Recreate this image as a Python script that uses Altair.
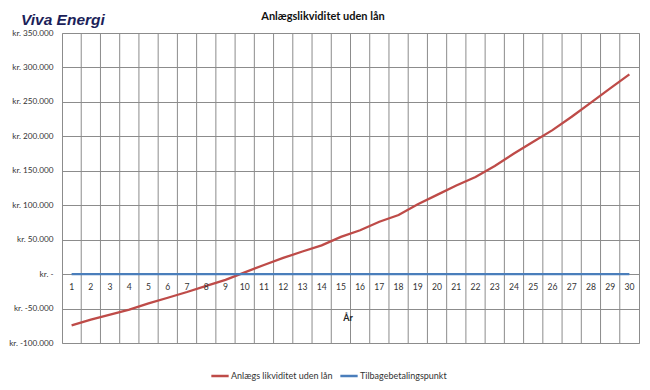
import altair as alt
import pandas as pd

# ---- data ----
years = list(range(1, 31))
likviditet = [-74500, -66000, -58800, -51500, -42600, -34300, -26000, -17000, -8300, 2500,
              13200, 23500, 32800, 41700, 54000, 63700, 76000, 85800, 101500, 115000,
              128700, 141000, 157000, 175000, 192000, 209000, 228400, 249000, 269700, 290000]
tilbage = [0] * 30
series_names = ["Anlægs likviditet uden lån", "Tilbagebetalingspunkt"]
series_colors = ["#BE4B48", "#4A7EBB"]
y_ticks = [-100000, -50000, 0, 50000, 100000, 150000, 200000, 250000, 300000, 350000]
chart_title = "Anlægslikviditet uden lån"
logo_text = "Viva Energi"
x_title = "År"

rows = []
for y, v in zip(years, likviditet):
    rows.append({"year": y, "value": v, "series": series_names[0]})
for y, v in zip(years, tilbage):
    rows.append({"year": y, "value": v, "series": series_names[1]})
df = pd.DataFrame(rows)

bounds = pd.DataFrame({"b": [y + 0.5 for y in years[:-1]]})
xlab = pd.DataFrame({"year": years, "value": tilbage, "lab": [str(y) for y in years]})

FONT = "Lato"
W, H = 577, 310

xscale = alt.Scale(domain=[0.5, 30.5], nice=False, zero=False)
yscale = alt.Scale(domain=[-100000, 350000], nice=False)

label_expr = ("datum.value == 0 ? 'kr. -\u00a0\u00a0\u00a0' : (datum.value < 0 ? 'kr. -' + "
              "replace(format(-datum.value, ',.0f'), /,/g, '.') : 'kr. ' + "
              "replace(format(datum.value, ',.0f'), /,/g, '.'))")


def yaxis():
    return alt.Axis(values=y_ticks, grid=True, gridColor="#8C8C8C", gridWidth=1,
                    ticks=False, domain=False, labelExpr=label_expr, labelOverlap=False,
                    labelFontSize=8.2, labelFont=FONT, labelColor="#333333",
                    labelPadding=9, title=None)


grid = alt.Chart(bounds).mark_rule(color="#8C8C8C", strokeWidth=1).encode(
    x=alt.X("b:Q", scale=xscale, axis=None),
)

lines = alt.Chart(df).mark_line(strokeWidth=2.3).encode(
    x=alt.X("year:Q", scale=xscale, axis=None),
    y=alt.Y("value:Q", scale=yscale, axis=yaxis()),
    color=alt.Color("series:N",
                    scale=alt.Scale(domain=series_names, range=series_colors),
                    sort=series_names,
                    legend=alt.Legend(title=None, orient="none", legendX=148, legendY=333,
                                      direction="horizontal", symbolType="stroke",
                                      symbolStrokeWidth=2.5, symbolSize=300,
                                      labelFont=FONT, labelFontSize=9, labelColor="#333333",
                                      columnPadding=2, labelOffset=1)),
    detail="series:N",
)

xlabels = alt.Chart(xlab).mark_text(
    font=FONT, fontSize=8.6, color="#333333", align="center", baseline="middle", dy=13
).encode(x=alt.X("year:Q", scale=xscale, axis=None),
         y=alt.Y("value:Q", scale=yscale, axis=yaxis()), text="lab:N")

xtitle = alt.Chart(pd.DataFrame({"t": [x_title]})).mark_text(
    font=FONT, fontSize=9, fontWeight="bold", color="#222222", align="center", baseline="middle"
).encode(text="t:N", x=alt.value(286), y=alt.value(285))

title_mark = alt.Chart(pd.DataFrame({"t": [chart_title]})).mark_text(
    font=FONT, fontSize=11, fontWeight="bold", color="#111111", align="center", baseline="middle"
).encode(text="t:N", x=alt.value(261), y=alt.value(-16))

logo_mark = alt.Chart(pd.DataFrame({"t": [logo_text]})).mark_text(
    font="Liberation Sans", fontSize=15.5, fontWeight="bold", fontStyle="italic",
    color="#1C1F5A", align="left", baseline="alphabetic"
).encode(text="t:N", x=alt.value(-41), y=alt.value(-8))

chart = alt.layer(grid, lines, xlabels, xtitle, title_mark, logo_mark).properties(
    width=W, height=H,
    padding={"left": 54, "top": 25, "right": 3, "bottom": 40},
    autosize=alt.AutoSizeParams(type="none"),
    background="white",
).configure_view(stroke="#8C8C8C", strokeWidth=1)

chart.save("out.html", embed_options={"renderer": "svg", "actions": False})
